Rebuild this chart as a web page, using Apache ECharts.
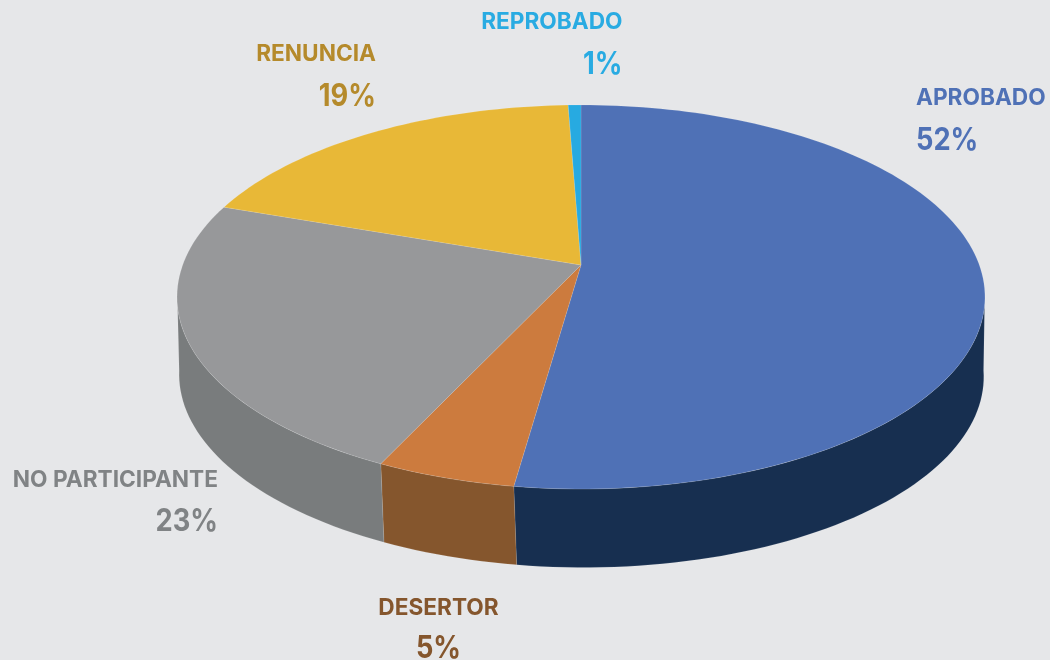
<!DOCTYPE html>
<html><head><meta charset="utf-8">
<style>html,body{margin:0;padding:0;background:#E6E7E9}#c{width:1050px;height:660px}</style>
<script src="https://cdn.jsdelivr.net/npm/echarts@6/dist/echarts.min.js"></script>
</head><body><div id="c"></div>
<script>
const categories = ['APROBADO','DESERTOR','NO PARTICIPANTE','RENUNCIA','REPROBADO'];
const shareValues = [52.25,4.77,23.28,19.1,0.6];
const percentLabels = ['52%','5%','23%','19%','1%'];
const topColors = ['#4F71B6','#CC7B3E','#97989A','#E8B837','#27AAE1'];
const sideColors = ['#172F50','#85562D','#797C7D','#B58A2B','#1B7FA8'];
const labelColors = ['#4F71B6','#85562D','#808385','#B58A2B','#29ABE2'];
// label anchor: x, name baseline, percent baseline, align
const labelPlacement = [
  [916,106.5,152,'left'],[438.5,616.5,660,'center'],[218,488.5,533,'right'],[376,62.5,108,'right'],[622.5,30.5,76,'right']
];
const total = shareValues.reduce((a,b)=>a+b,0);
let acc = 0;
const sliceRows = shareValues.map((v,i)=>{const s=acc;acc+=v;return [s/total*360,acc/total*360,i];});
const CX=581,CY=265,A=398.3,B=186.67,K=1/6,DEPTH=78.5;
const rad=d=>d*Math.PI/180;
const SIL_R=Math.acos(-K)*180/Math.PI-1.5, SIL_L=360-SIL_R;
function topPt(t){const u=Math.sin(rad(t)),v=Math.cos(rad(t)),w=1+K*v;return [CX+A*u/w,CY-B*v/w];}
function botPt(t){const p=topPt(t),v=Math.cos(rad(t));return [CX+(p[0]-CX)*0.996+2.6*Math.max(0,-v),p[1]+DEPTH];}
function arc(s,e,fn){const n=Math.max(4,Math.ceil((e-s)/1.5)),o=[];for(let i=0;i<=n;i++)o.push(fn(s+(e-s)*i/n));return o;}
const sideItem=(p,api)=>{
  const s=Math.max(api.value(0),SIL_R),e=Math.min(api.value(1),SIL_L),i=api.value(2);
  if(e<=s) return null;
  const pts=arc(s,e,topPt).concat(arc(s,e,botPt).reverse()).map(q=>api.coord(q));
  return {type:'polygon',shape:{points:pts},style:{fill:sideColors[i],stroke:'rgba(255,255,255,0.2)',lineWidth:0.5}};
};
const topItem=(p,api)=>{
  const s=api.value(0),e=api.value(1),i=api.value(2);
  const pts=[[CX,CY]].concat(arc(s,e,topPt)).map(q=>api.coord(q));
  return {type:'polygon',shape:{points:pts},style:{fill:topColors[i],stroke:'rgba(255,255,255,0.22)',lineWidth:0.5}};
};
const FONT='Inter';
const NAME_PX=23, PCT_PX=31;
const labelEls=[];
categories.forEach((c,i)=>{
  const [x,y1,y2,al]=labelPlacement[i];
  labelEls.push({type:'text',x:x,y:y1-NAME_PX*0.364,scaleX:0.985,silent:true,style:{text:c,fill:labelColors[i],font:'700 '+NAME_PX+'px '+FONT,textAlign:al,textVerticalAlign:'middle'}});
  labelEls.push({type:'text',x:x,y:y2-PCT_PX*0.364,scaleX:0.88,silent:true,style:{text:percentLabels[i],fill:labelColors[i],font:'700 '+PCT_PX+'px '+FONT,textAlign:al,textVerticalAlign:'middle'}});
});
const chart=echarts.init(document.getElementById('c'),null,{renderer:'canvas'});
chart.setOption({
  animation:false,backgroundColor:'#E6E7E9',
  grid:{left:0,right:0,top:0,bottom:0},
  xAxis:{type:'value',min:0,max:1050,show:false},
  yAxis:{type:'value',min:0,max:660,inverse:true,show:false},
  tooltip:{show:false},
  graphic:{elements:labelEls},
  series:[
    {type:'custom',name:'lado',coordinateSystem:'cartesian2d',renderItem:sideItem,data:sliceRows,encode:{x:0,y:1},silent:true,clip:false},
    {type:'custom',name:'cara',coordinateSystem:'cartesian2d',renderItem:topItem,data:sliceRows,encode:{x:0,y:1},silent:true,clip:false}
  ]
});
</script></body></html>
